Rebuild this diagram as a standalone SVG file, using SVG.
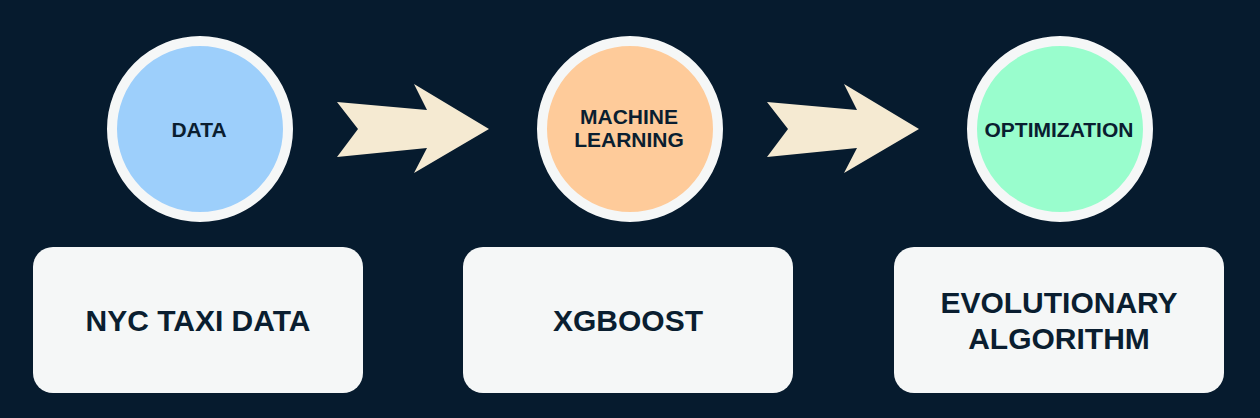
<svg xmlns="http://www.w3.org/2000/svg" width="1260" height="418" viewBox="0 0 1260 418">
<style>
.bg{fill:#061b2e}
.circ{stroke:#f5f7f7;stroke-width:10}
.box{fill:#f5f7f7}
.arrow{fill:#f5ead2}
.t{font-family:"Liberation Sans",Arial,sans-serif;font-weight:bold;fill:#0a1e30;text-anchor:middle;dominant-baseline:central}
.s{font-size:21px}
.b{font-size:30px}
</style>
<rect class="bg" x="0" y="0" width="1260" height="418"/>
<g id="connectors">
<polygon class="arrow" points="337,102 427,110 414,84 489,129 414,173 427,148 337,157 358,129"/>
<polygon class="arrow" points="767,102 857,110 844,84 919,129 844,173 857,148 767,157 788,129"/>
</g>
<g id="node-data">
<circle class="circ" cx="200" cy="129" r="88" fill="#9dcffb"/>
<text class="t s" x="199" y="129">DATA</text>
</g>
<g id="node-ml">
<circle class="circ" cx="630" cy="129" r="88" fill="#fecb9a"/>
<text class="t s" x="629" y="116">MACHINE</text>
<text class="t s" x="629" y="139">LEARNING</text>
</g>
<g id="node-opt">
<circle class="circ" cx="1060" cy="129" r="88" fill="#99fdcd"/>
<text class="t s" x="1059" y="129">OPTIMIZATION</text>
</g>
<g id="box-nyc">
<rect class="box" x="33" y="247" width="330" height="146" rx="20"/>
<text class="t b" x="198" y="320">NYC TAXI DATA</text>
</g>
<g id="box-xgb">
<rect class="box" x="463" y="247" width="330" height="146" rx="20"/>
<text class="t b" x="628" y="320">XGBOOST</text>
</g>
<g id="box-evo">
<rect class="box" x="894" y="247" width="330" height="146" rx="20"/>
<text class="t b" x="1059" y="302">EVOLUTIONARY</text>
<text class="t b" x="1059" y="338">ALGORITHM</text>
</g>
</svg>
